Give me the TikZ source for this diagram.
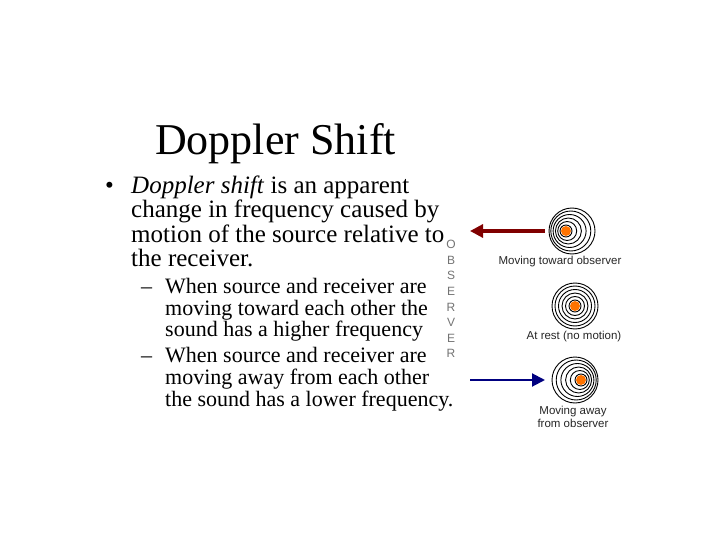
\documentclass[tikz,border=0pt]{standalone}
\usepackage{fontspec}
\setmainfont{Liberation Serif}
\newfontfamily\lsans{Liberation Sans}
\usetikzlibrary{arrows.meta}
\begin{document}
\begin{tikzpicture}[x=1pt,y=-1pt,
  txt/.style={anchor=base west,inner sep=0pt,font=\fontsize{25}{27}\selectfont},
  sub/.style={anchor=base west,inner sep=0pt,font=\fontsize{22}{24}\selectfont},
  lab/.style={inner sep=0pt,font=\lsans\fontsize{11.5}{13}\selectfont,align=center,text=black!85},
  ring/.style={line width=0.9pt},
  dot/.style={circle,fill=orange!90!red,inner sep=0pt,minimum size=10pt}]
\useasboundingbox (0,0) rectangle (720,540);
\node[anchor=base west,inner sep=0pt,font=\fontsize{44}{46}\selectfont] (title) at (155,155) {Doppler Shift};
\node[txt] (b) at (105,194) {•};
\node[txt] (l1) at (131,194) {\textit{Doppler shift} is an apparent};
\node[txt] (l2) at (131,218) {change in frequency caused by};
\node[txt] (l3) at (131,242) {motion of the source relative to};
\node[txt] (l4) at (131,266) {the receiver.};
\node[sub] (d1) at (141,293) {–};
\node[sub] (s1) at (165,293) {When source and receiver are};
\node[sub] (s2) at (165,315) {moving toward each other the};
\node[sub] (s3) at (165,336) {sound has a higher frequency};
\node[sub] (d2) at (141,362) {–};
\node[sub] (s4) at (165,362) {When source and receiver are};
\node[sub] (s5) at (165,384) {moving away from each other};
\node[sub] (s6) at (165,406) {the sound has a lower frequency.};
% OBSERVER
\foreach \c [count=\i] in {O,B,S,E,R,V,E,R}
  \node[inner sep=0pt,font=\lsans\fontsize{12}{12}\selectfont,text=black!55] (ob\i) at (451,229+15.6*\i) {\c};
% top group (moving toward, left)
\foreach \r/\dx in {6/0,9.5/1.2,13/2.4,16.5/3.6,20/4.8,23/6}
  \draw[ring] (566+\dx,231) circle (\r);
\node[dot] (s1dot) at (566,231) {};
% middle group
\foreach \r in {6,9.5,13,16.5,20,23}
  \draw[ring] (575,306) circle (\r);
\node[dot] (s2dot) at (575,306) {};
% bottom group (moving away, right)
\foreach \r/\dx in {6/0,9.5/1.2,13/2.4,16.5/3.6,20/4.8,23/6}
  \draw[ring] (581-\dx,380) circle (\r);
\node[dot] (s3dot) at (581,380) {};
\coordinate (tA) at (545,231);
\coordinate (tB) at (470,231);
\coordinate (bA) at (470,380);
\coordinate (bB) at (545,380);
\draw[line width=3pt,color=red!50!black,-{Triangle[length=13pt,width=13pt]}] (tA) -- (tB);
\draw[line width=2pt,color=blue!50!black,-{Triangle[length=13pt,width=13pt]}] (bA) -- (bB);
\node[lab] (t1) at (560,262) {Moving toward observer};
\node[lab] (t2) at (574,337) {At rest (no motion)};
\node[lab] (t3) at (573,417) {Moving away\\from observer};
\end{tikzpicture}
\end{document}
